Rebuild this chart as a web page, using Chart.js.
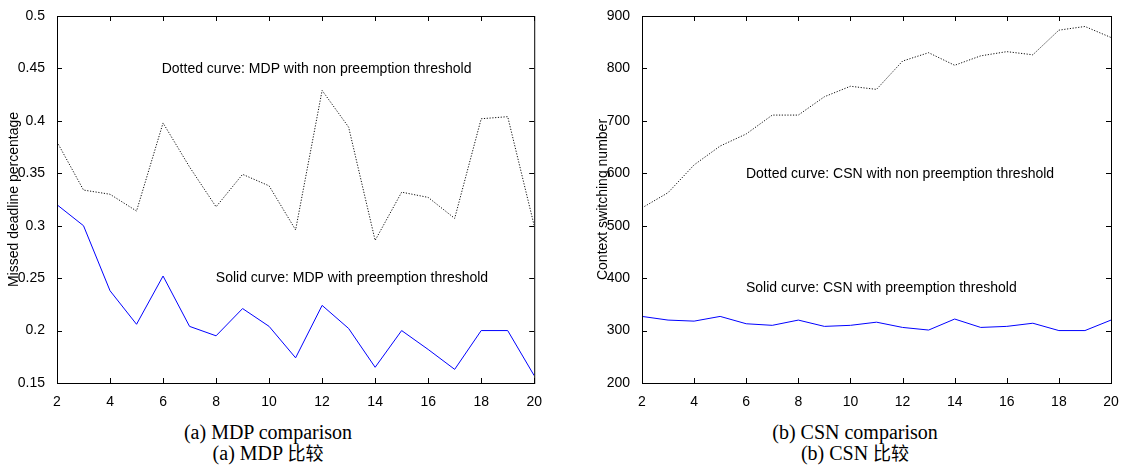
<!DOCTYPE html>
<html>
<head>
<meta charset="utf-8">
<script src="https://cdn.jsdelivr.net/npm/chart.js@4"></script>
<style>
  body { margin: 0; background: #fff; width: 1129px; height: 470px; position: relative; overflow: hidden; }
  canvas { position: absolute; top: 0; }
  #c-mdp { left: 0; }
  #c-csn { left: 560px; }
  .cap {
    position: absolute; width: 300px; text-align: center;
    font-family: "Liberation Serif", "Noto Sans CJK SC", serif;
    font-size: 20px; line-height: 20px; color: #000;
  }
  .cap span { font-family: "Noto Sans CJK SC", sans-serif; font-size: 18px; }
</style>
</head>
<body>
<canvas id="c-mdp" width="545" height="410"></canvas>
<canvas id="c-csn" width="569" height="410"></canvas>
<div class="cap" style="left:118px; top:422px;">(a) MDP comparison<br>(a) MDP <span>比较</span></div>
<div class="cap" style="left:705px; top:422px;">(b) CSN comparison<br>(b) CSN <span>比较</span></div>
<script>
// x axis: number of tasks (2..20)
const xs = [2, 3, 4, 5, 6, 7, 8, 9, 10, 11, 12, 13, 14, 15, 16, 17, 18, 19, 20];

// (a) missed deadline percentage
const mdpNonPT = [0.380, 0.334, 0.330, 0.314, 0.398, 0.356, 0.318, 0.349, 0.338, 0.296,
                  0.429, 0.394, 0.286, 0.332, 0.327, 0.307, 0.402, 0.404, 0.300];
const mdpPT    = [0.320, 0.300, 0.238, 0.206, 0.252, 0.204, 0.195, 0.221, 0.204, 0.174,
                  0.224, 0.202, 0.165, 0.200, 0.182, 0.163, 0.200, 0.200, 0.157];

// (b) context switching number
const csnNonPT = [534, 563, 616, 652, 675, 711, 711, 746, 766, 760,
                  814, 830, 806, 824, 832, 826, 873, 880, 859];
const csnPT    = [327, 320, 318, 327, 313, 310, 320, 308, 310, 316,
                  306, 301, 322, 306, 308, 314, 300, 300, 320];

const FONT = '"Liberation Sans", Arial, sans-serif';

function pts(ys) {
  return xs.map((x, i) => ({ x: x, y: ys[i] }));
}

// MATLAB-ish box with inward ticks, plus the in-plot notes
const framePlugin = {
  id: "frame",
  afterDatasetsDraw(chart, args, opts) {
    const { ctx, chartArea: a, scales } = chart;
    const x = scales.x, y = scales.y;
    ctx.save();
    ctx.strokeStyle = "#000";
    ctx.lineWidth = 1;
    ctx.strokeRect(a.left + 0.5, a.top + 0.5, a.right - a.left, a.bottom - a.top);
    ctx.beginPath();
    x.ticks.forEach(t => {
      const px = Math.round(x.getPixelForValue(t.value)) + 0.5;
      ctx.moveTo(px, a.bottom); ctx.lineTo(px, a.bottom - 5);
      ctx.moveTo(px, a.top); ctx.lineTo(px, a.top + 5);
    });
    y.ticks.forEach(t => {
      const py = Math.round(y.getPixelForValue(t.value)) + 0.5;
      ctx.moveTo(a.left, py); ctx.lineTo(a.left + 5, py);
      ctx.moveTo(a.right, py); ctx.lineTo(a.right - 5, py);
    });
    ctx.stroke();

    ctx.fillStyle = "#000";
    ctx.font = "14px " + FONT;
    ctx.textAlign = "left";
    ctx.textBaseline = "alphabetic";
    (opts.notes || []).forEach(n => {
      ctx.fillText(n.text, x.getPixelForValue(n.x), y.getPixelForValue(n.y));
    });
    ctx.restore();
  }
};

function makeChart(id, cfg) {
  return new Chart(document.getElementById(id), {
    type: "line",
    data: {
      datasets: [
        { data: pts(cfg.dotted), borderColor: "#111", borderWidth: 1, borderDash: [1.2, 1.6],
          pointRadius: 0, tension: 0, fill: false },
        { data: pts(cfg.solid), borderColor: "#0000ff", borderWidth: 1,
          pointRadius: 0, tension: 0, fill: false }
      ]
    },
    options: {
      responsive: false,
      animation: false,
      devicePixelRatio: 1,
      layout: { padding: { top: 16, right: cfg.padRight, left: 0, bottom: 0 } },
      plugins: {
        legend: { display: false },
        tooltip: { enabled: false },
        frame: { notes: cfg.notes }
      },
      scales: {
        x: {
          type: "linear", min: 2, max: 20,
          grid: { display: false }, border: { display: false },
          ticks: { stepSize: 2, padding: 3, color: "#000", font: { family: FONT, size: 14 } },
          afterFit: s => { s.height = 27; }
        },
        y: {
          min: cfg.yMin, max: cfg.yMax,
          grid: { display: false }, border: { display: false },
          ticks: {
            stepSize: cfg.yStep, padding: 4, color: "#000", font: { family: FONT, size: 14 },
            callback: v => String(+v.toFixed(2))
          },
          title: {
            display: true, text: cfg.yTitle, color: "#000",
            font: { family: FONT, size: 14 }, padding: { top: cfg.titlePad, bottom: 0 }
          },
          afterFit: s => { s.width = cfg.yWidth; }
        }
      }
    },
    plugins: [framePlugin]
  });
}

makeChart("c-mdp", {
  dotted: mdpNonPT, solid: mdpPT,
  yMin: 0.15, yMax: 0.5, yStep: 0.05,
  yTitle: "Missed deadline percentage",
  yWidth: 57, padRight: 10, titlePad: 5.6,
  notes: [
    { text: "Dotted curve: MDP with non preemption threshold", x: 5.95, y: 0.4456 },
    { text: "Solid curve: MDP with preemption threshold", x: 7.99, y: 0.246 }
  ]
});

makeChart("c-csn", {
  dotted: csnNonPT, solid: csnPT,
  yMin: 200, yMax: 900, yStep: 100,
  yTitle: "Context switching number",
  yWidth: 82, padRight: 18, titlePad: 34.6,
  notes: [
    { text: "Dotted curve: CSN with non preemption threshold", x: 5.99, y: 591 },
    { text: "Solid curve: CSN with preemption threshold", x: 5.99, y: 374 }
  ]
});
</script>
</body>
</html>
